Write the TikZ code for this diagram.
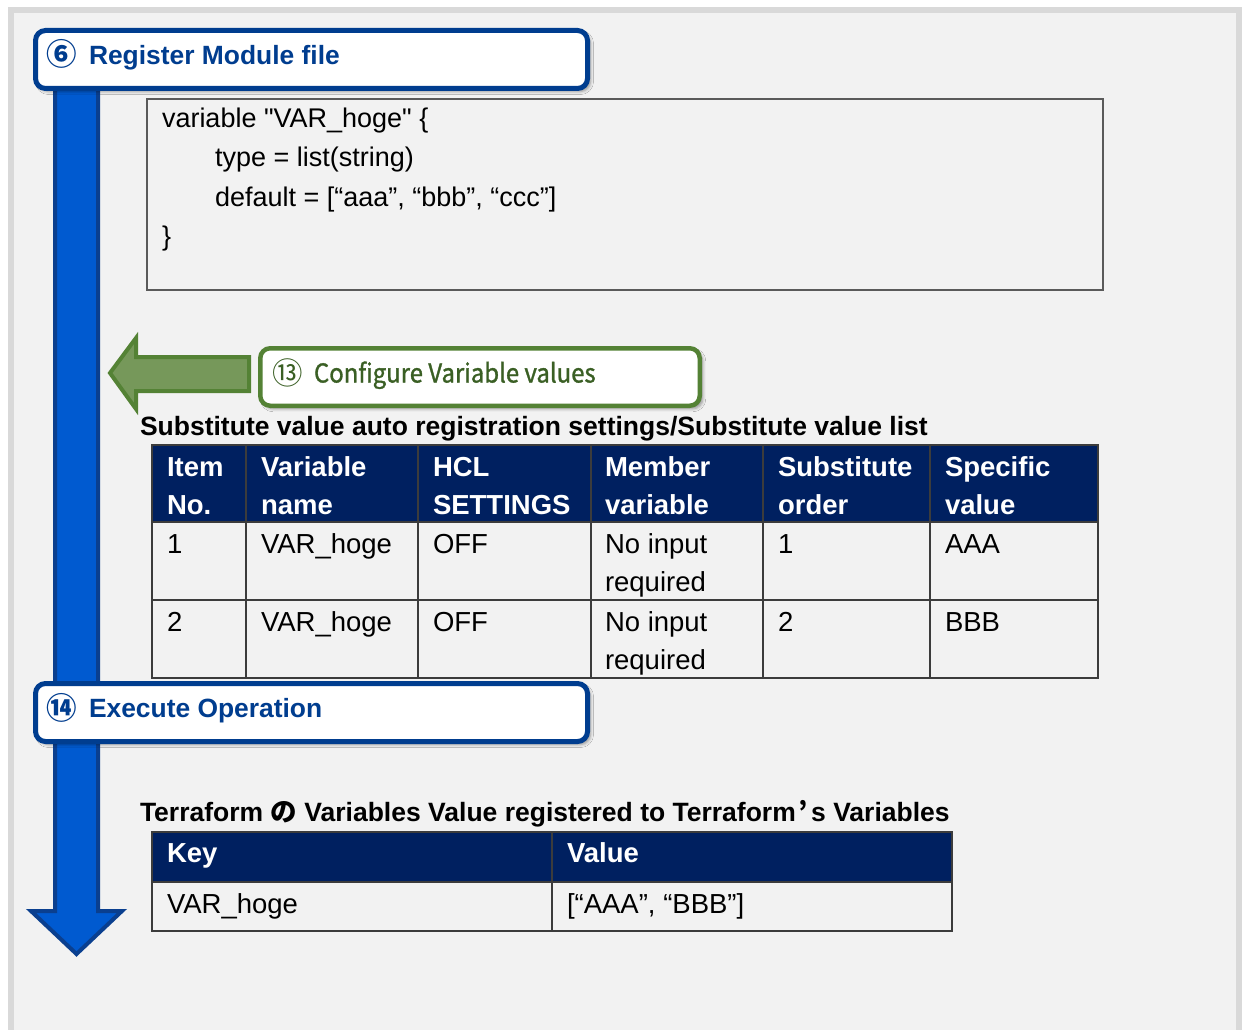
\documentclass[tikz,border=0pt]{standalone}
\usepackage{fontspec}
\setmainfont{Liberation Sans}
\newfontfamily\cjk{Noto Sans CJK JP}
\newfontfamily\codefont{Liberation Sans}
\newfontfamily\greenfont[FakeStretch=0.92, FakeBold=1.2]{Noto Sans CJK JP}
\usetikzlibrary{shadows.blur}

\definecolor{pagebg}{HTML}{F2F2F2}
\definecolor{framegray}{HTML}{D9D9D9}
\definecolor{boxblue}{HTML}{003D8F}
\definecolor{arrowfill}{HTML}{005AD0}
\definecolor{arrowedge}{HTML}{0A3F8F}
\definecolor{greenedge}{HTML}{548235}
\definecolor{greenfill}{HTML}{76985A}
\definecolor{greentext}{HTML}{3A5F24}
\definecolor{navy}{HTML}{002060}
\definecolor{gridgray}{HTML}{3C3C3C}
\definecolor{codeframe}{HTML}{5A5A5A}

\newcommand\tabfont{\fontsize{27.5}{33}\selectfont}
\newcommand\headfont{\fontsize{26.4}{32}\selectfont\bfseries}
\newcommand\circfont{\cjk\fontsize{30.5}{34}\selectfont}

\tikzset{
  panelbox/.style={fill=white, rounded corners=10pt,
    blur shadow={shadow xshift=3pt, shadow yshift=-3pt, shadow opacity=40, shadow blur radius=3pt},
    inner sep=0pt, outer sep=0pt},
  bluebox/.style={panelbox, draw=boxblue, line width=5pt},
  greenbox/.style={panelbox, draw=greenedge, line width=4.5pt},
  lbl/.style={anchor=base west, inner sep=0pt, outer sep=0pt},
  bluetxt/.style={lbl, text=boxblue, font=\headfont},
  codetxt/.style={lbl, text=black, font=\codefont\fontsize{27}{32}\selectfont},
  titletxt/.style={lbl, text=black, font=\fontsize{26.5}{32}\selectfont\bfseries},
  hdrtxt/.style={lbl, text=white, font=\tabfont\bfseries},
  celltxt/.style={lbl, text=black, font=\tabfont},
  gridline/.style={draw=gridgray, line width=1.5pt},
}

\begin{document}
\begin{tikzpicture}[x=1pt,y=-1pt]
\useasboundingbox (0,0) rectangle (1248,1030);
\fill[white] (0,0) rectangle (1248,1030);
% panel background with its grey frame
\draw[draw=framegray, fill=pagebg, line width=6pt] (11,10) rectangle (1239,1050);

% long downward flow arrow
\draw[draw=arrowedge, fill=arrowfill, line width=4pt, line join=miter]
  (55,85) -- (55,911) -- (31,911) -- (76.5,954) -- (122,911) -- (98,911) -- (98,85) -- cycle;

% step 6 header
\node[bluebox, minimum width=552pt, minimum height=58pt] (reg) at (311.5,59.5) {};
\node[lbl, text=boxblue, font=\circfont\bfseries] (regnum) at (46,66) {⑥};
\node[bluetxt] (regtxt) at (89,64.5) {Register Module file};

% module source listing
\draw[draw=codeframe, line width=2pt] (147,99) rectangle (1103,290);
\node[codetxt] (code1) at (162,128) {variable "VAR\_hoge" \{};
\node[codetxt] (code2) at (215,167) {type = list(string)};
\node[codetxt] (code3) at (215,206) {default = [“aaa”, “bbb”, “ccc”]};
\node[codetxt] (code4) at (162,245) {\}};

% step 13: arrow pointing back to the flow
\draw[draw=greenedge, fill=greenfill, line width=4pt, line join=miter]
  (110,373) -- (136,338) -- (136,357) -- (249,357) -- (249,391) -- (136,391) -- (136,409) -- cycle;
\node[greenbox, minimum width=439.5pt, minimum height=57.5pt] (cfg) at (480,377) {};
\node[lbl, text=greentext, font=\circfont] (cfgnum) at (272,384.5) {⑬};
\node[lbl, text=greentext, font=\greenfont\fontsize{26}{30}\selectfont] (cfgtxt) at (314,382.5) {Configure Variable values};

% substitute value list
\node[titletxt] (title1) at (140,435) {Substitute value auto registration settings/Substitute value list};
\fill[navy] (152,445) rectangle (1098,522);
\foreach \yy in {522,600} \draw[gridline] (152,\yy) -- (1098,\yy);
\foreach \xx in {246,418,591,763,930} \draw[gridline] (\xx,445) -- (\xx,678);
\draw[gridline] (152,445) rectangle (1098,678);

\node[hdrtxt] (h1a) at (167,476) {Item};
\node[hdrtxt] (h1b) at (167,514) {No.};
\node[hdrtxt] (h2a) at (261,476) {Variable};
\node[hdrtxt] (h2b) at (261,514) {name};
\node[hdrtxt] (h3a) at (433,476) {HCL};
\node[hdrtxt] (h3b) at (433,514) {SETTINGS};
\node[hdrtxt] (h4a) at (605,476) {Member};
\node[hdrtxt] (h4b) at (605,514) {variable};
\node[hdrtxt] (h5a) at (778,476) {Substitute};
\node[hdrtxt] (h5b) at (778,514) {order};
\node[hdrtxt] (h6a) at (945,476) {Specific};
\node[hdrtxt] (h6b) at (945,514) {value};

\node[celltxt] (r1c1) at (167,553) {1};
\node[celltxt] (r1c2) at (261,553) {VAR\_hoge};
\node[celltxt] (r1c3) at (433,553) {OFF};
\node[celltxt] (r1c4) at (605,553) {No input};
\node[celltxt] (r1c4b) at (605,591) {required};
\node[celltxt] (r1c5) at (778,553) {1};
\node[celltxt] (r1c6) at (945,553) {AAA};

\node[celltxt] (r2c1) at (167,631) {2};
\node[celltxt] (r2c2) at (261,631) {VAR\_hoge};
\node[celltxt] (r2c3) at (433,631) {OFF};
\node[celltxt] (r2c4) at (605,631) {No input};
\node[celltxt] (r2c4b) at (605,669) {required};
\node[celltxt] (r2c5) at (778,631) {2};
\node[celltxt] (r2c6) at (945,631) {BBB};

% step 14 header
\node[bluebox, minimum width=552pt, minimum height=58pt] (exe) at (311.5,712.5) {};
\node[lbl, text=boxblue, font=\circfont\bfseries] (exenum) at (46,719) {⑭};
\node[bluetxt] (exetxt) at (89,717.5) {Execute Operation};

% resulting Terraform variables
\node[titletxt] (title2) at (140,821.5) {Terraform {\cjk\bfseries の} Variables Value registered to Terraform\hspace{3pt}{\cjk\bfseries ’}\hspace{3pt}s Variables};
\fill[navy] (152,832) rectangle (952,882);
\draw[gridline] (152,882) -- (952,882);
\draw[gridline] (552,832) -- (552,931);
\draw[gridline] (152,832) rectangle (952,931);
\node[hdrtxt] (kh) at (167,862) {Key};
\node[hdrtxt] (vh) at (567,862) {Value};
\node[celltxt] (kv) at (167,913) {VAR\_hoge};
\node[celltxt] (vv) at (567,913) {[“AAA”, “BBB”]};
\end{tikzpicture}
\end{document}
